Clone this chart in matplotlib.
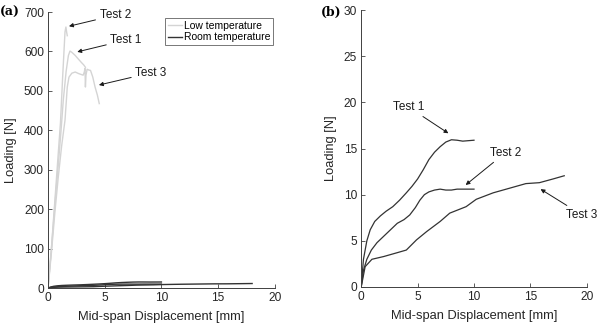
import matplotlib.pyplot as plt

plt.rcParams['font.family'] = ['Liberation Sans', 'DejaVu Sans']

# low temperature tests (panel a)
low_t1_x = [0, 0.3, 0.6, 0.9, 1.15, 1.35, 1.6, 1.8, 1.94, 2.1, 2.4, 2.7, 2.95, 3.15, 3.3]
low_t1_y = [0, 100, 210, 310, 400, 477, 550, 590, 601, 598, 590, 580, 572, 566, 560]
low_t2_x = [0, 0.3, 0.6, 0.85, 1.1, 1.3, 1.5, 1.58, 1.65, 1.7]
low_t2_y = [0, 100, 220, 320, 420, 540, 650, 662, 648, 640]
low_t3_x = [0, 0.3, 0.6, 0.9, 1.2, 1.5, 1.7, 1.85, 2.1, 2.4, 2.7, 2.9, 3.1, 3.2,
            3.26, 3.3, 3.35, 3.45, 3.6, 3.75, 3.95, 4.15, 4.35, 4.52]
low_t3_y = [0, 90, 190, 280, 360, 426, 510, 535, 545, 548, 544, 542, 540, 548,
            557, 510, 540, 555, 553, 552, 535, 510, 490, 468]

# room temperature tests (panel b)
room_t1_x = [0, 0.2, 0.5, 0.8, 1.2, 1.7, 2.2, 2.8, 3.4, 4.0, 4.5, 5.0, 5.5, 6.0,
             6.5, 7.0, 7.5, 8.0, 8.5, 9.0, 9.5, 10.0]
room_t1_y = [0, 3.0, 5.0, 6.2, 7.1, 7.7, 8.2, 8.7, 9.4, 10.2, 10.9, 11.7, 12.7, 13.8,
             14.6, 15.2, 15.7, 15.95, 15.9, 15.8, 15.85, 15.9]
room_t2_x = [0, 0.2, 0.5, 0.9, 1.4, 2.0, 2.6, 3.2, 3.8, 4.3, 4.8, 5.2, 5.6, 6.0,
             6.5, 7.0, 7.5, 8.0, 8.5, 9.0, 9.5, 10.0]
room_t2_y = [0, 1.8, 3.0, 4.0, 4.8, 5.5, 6.2, 6.9, 7.3, 7.8, 8.6, 9.4, 10.0, 10.3,
             10.5, 10.6, 10.5, 10.5, 10.6, 10.6, 10.6, 10.6]
room_t3_x = [0, 0.35, 0.95, 2.0, 3.15, 4.0, 4.9, 5.8, 7.0, 7.85, 9.3, 10.2, 11.7,
             13.15, 14.6, 15.8, 17.0, 18.0]
room_t3_y = [0, 2.2, 3.0, 3.3, 3.7, 4.0, 5.1, 6.0, 7.1, 8.0, 8.7, 9.5, 10.2,
             10.7, 11.2, 11.3, 11.7, 12.05]

LOW = '#d4d4d4'
ROOM = '#333333'
AXC = '#404040'


def style(ax, ymax, ystep):
    ax.set_xlim(0, 20)
    ax.set_ylim(0, ymax)
    ax.set_xticks(range(0, 21, 5))
    ax.set_yticks(range(0, ymax + 1, ystep))
    for s in ['top', 'right']:
        ax.spines[s].set_visible(False)
    for s in ['left', 'bottom']:
        ax.spines[s].set_color(AXC)
        ax.spines[s].set_linewidth(0.7)
    ax.tick_params(direction='in', length=3, width=0.6, colors=AXC,
                   labelsize=8.6, labelcolor='#262626', pad=3)
    ax.set_xlabel('Mid-span Displacement [mm]', fontsize=9.3, color='#262626', labelpad=5)
    ax.set_ylabel('Loading [N]', fontsize=9.3, color='#262626', labelpad=5)


def note(ax, text, tip, start):
    ax.annotate(text, xy=tip, xytext=start, fontsize=8.5, color='#1a1a1a',
                ha='left', va='center',
                arrowprops=dict(arrowstyle='-|>', lw=0.7, color='#1a1a1a',
                                mutation_scale=6, shrinkA=1, shrinkB=0))


fig = plt.figure(figsize=(6, 3.25), dpi=100)
ax1 = fig.add_axes([0.08, 0.113, 0.378, 0.85])
ax2 = fig.add_axes([0.602, 0.117, 0.376, 0.852])

# panel (a): both temperatures
ax1.plot(low_t1_x, low_t1_y, color=LOW, lw=1.0, label='Low temperature')
ax1.plot(low_t2_x, low_t2_y, color=LOW, lw=1.0)
ax1.plot(low_t3_x, low_t3_y, color=LOW, lw=1.0)
ax1.plot(room_t1_x, room_t1_y, color=ROOM, lw=1.0, label='Room temperature')
ax1.plot(room_t2_x, room_t2_y, color=ROOM, lw=1.0)
ax1.plot(room_t3_x, room_t3_y, color=ROOM, lw=1.0)
style(ax1, 700, 100)
leg = ax1.legend(loc='upper right', bbox_to_anchor=(1.0, 0.985), fontsize=7.5,
                 frameon=True, fancybox=False, handlelength=1.3, handletextpad=0.2,
                 borderpad=0.25, labelspacing=0.15, borderaxespad=0.2)
leg.get_frame().set_edgecolor('#555555')
leg.get_frame().set_linewidth(0.7)
note(ax1, 'Test 2', (1.85, 664), (4.55, 692))
note(ax1, 'Test 1', (2.58, 599), (5.5, 629))
note(ax1, 'Test 3', (4.49, 515), (7.7, 546))

# panel (b): room temperature only
ax2.plot(room_t1_x, room_t1_y, color=ROOM, lw=0.9)
ax2.plot(room_t2_x, room_t2_y, color=ROOM, lw=0.9)
ax2.plot(room_t3_x, room_t3_y, color=ROOM, lw=0.9)
style(ax2, 30, 5)
note(ax2, 'Test 1', (7.73, 16.65), (2.8, 19.5))
note(ax2, 'Test 2', (9.26, 11.05), (11.4, 14.55))
note(ax2, 'Test 3', (15.9, 10.6), (18.2, 7.8))

fig.text(0.0, 0.963, '(a)', family='DejaVu Serif', fontweight='bold', fontsize=9,
         va='center', ha='left')
fig.text(0.535, 0.963, '(b)', family='DejaVu Serif', fontweight='bold', fontsize=9,
         va='center', ha='left')

fig.savefig('out.png', dpi=100)
